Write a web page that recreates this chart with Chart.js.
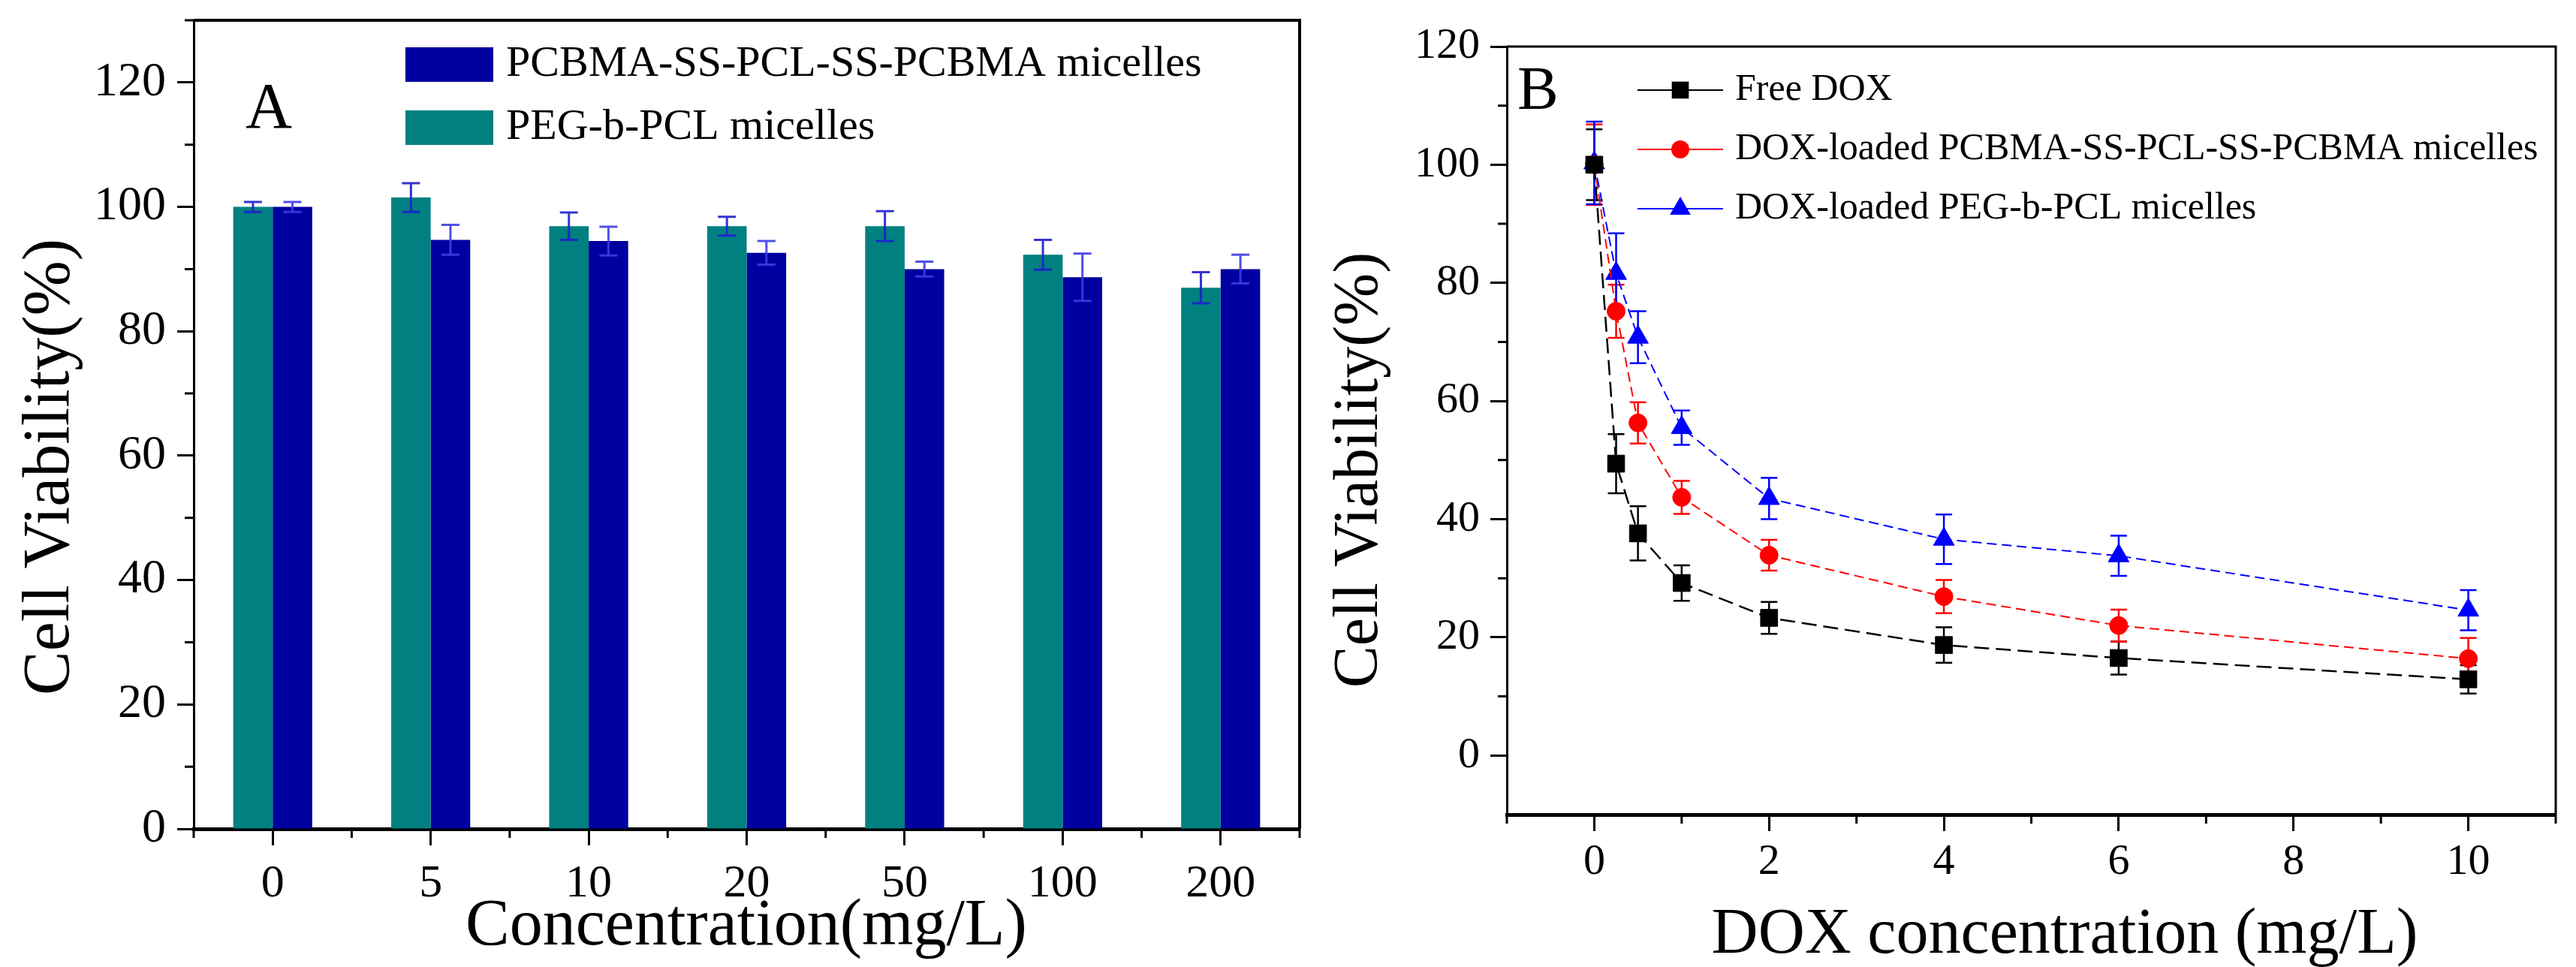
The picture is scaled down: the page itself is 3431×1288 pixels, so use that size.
<!DOCTYPE html>
<html>
<head>
<meta charset="utf-8">
<title>Cell viability of micelles and DOX-loaded micelles</title>
<script src="https://cdn.jsdelivr.net/npm/chart.js@4.4.1/dist/chart.umd.min.js"></script>
<style>
  html, body { margin: 0; padding: 0; background: #fff; }
  body { width: 3431px; height: 1288px; position: relative; overflow: hidden; }
  .panel { position: absolute; top: 0; height: 1288px; }
  #panel-a { left: 0; width: 1760px; }
  #panel-b { left: 1760px; width: 1671px; }
</style>
</head>
<body>
<div class="panel" id="panel-a"><canvas id="chartA"></canvas></div>
<div class="panel" id="panel-b"><canvas id="chartB"></canvas></div>
<script>
// Panel A - blank micelles
const aConcLabels = ['0', '5', '10', '20', '50', '100', '200'];
const aPegValues = [100, 101.5, 96.9, 96.9, 96.9, 92.3, 87.0];
const aPegErrors = [0.8, 2.3, 2.2, 1.5, 2.4, 2.4, 2.5];
const aPcbmaValues = [100, 94.7, 94.5, 92.6, 90.0, 88.7, 90.0];
const aPcbmaErrors = [0.8, 2.4, 2.3, 1.9, 1.2, 3.8, 2.3];
const aYTicks = [0, 20, 40, 60, 80, 100, 120];
const aYMinorTicks = [10, 30, 50, 70, 90, 110, 130];

// Panel B - DOX formulations
const bDoxConc = [0, 0.25, 0.5, 1, 2, 4, 6, 10];
const bFreeValues = [100, 49.4, 37.6, 29.2, 23.3, 18.7, 16.5, 12.9];
const bFreeErrors = [6, 5, 4.6, 3, 2.7, 3, 2.8, 2.4];
const bPcbmaValues = [100, 75.2, 56.3, 43.7, 33.9, 26.9, 22.0, 16.4];
const bPcbmaErrors = [6.8, 4.5, 3.5, 2.8, 2.6, 2.8, 2.7, 3.5];
const bPegValues = [100.3, 81.6, 70.8, 55.5, 43.5, 36.6, 33.8, 24.6];
const bPegErrors = [7, 6.8, 4.4, 2.9, 3.5, 4.2, 3.4, 3.4];
const bXTicks = [0, 2, 4, 6, 8, 10];
const bXMinorTicks = [-1, 1, 3, 5, 7, 9, 11];
const bYTicks = [0, 20, 40, 60, 80, 100, 120];
const bYMinorTicks = [10, 30, 50, 70, 90, 110];

const SERIF = "'Liberation Serif', 'Times New Roman', serif";
Chart.defaults.font.family = SERIF;
Chart.defaults.color = '#000';

// Marker shapes used in the panel B legend (same geometry as Chart.js point styles)
function drawMarker(ctx, style, x, y, r, color) {
  ctx.save();
  ctx.fillStyle = color;
  ctx.beginPath();
  if (style === 'rect') {
    const h = r * Math.SQRT1_2;
    ctx.rect(x - h, y - h, 2 * h, 2 * h);
  } else if (style === 'triangle') {
    for (let k = 0; k < 3; k++) {
      const a = k * 2 * Math.PI / 3;
      const px = x + Math.sin(a) * r;
      const py = y - Math.cos(a) * r;
      if (k === 0) ctx.moveTo(px, py); else ctx.lineTo(px, py);
    }
    ctx.closePath();
  } else {
    ctx.arc(x, y, r, 0, Math.PI * 2);
  }
  ctx.fill();
  ctx.restore();
}

function drawErrorBars(chart, opts) {
  const ctx = chart.ctx;
  const yScale = chart.scales.y;
  const half = opts.capWidth / 2;
  ctx.save();
  ctx.lineWidth = opts.errorWidth;
  opts.errors.forEach((errs, i) => {
    const meta = chart.getDatasetMeta(i);
    const ds = chart.data.datasets[i];
    ctx.strokeStyle = opts.errorColors[i];
    meta.data.forEach((el, j) => {
      const raw = ds.data[j];
      const v = typeof raw === 'object' ? raw.y : raw;
      const yHi = yScale.getPixelForValue(v + errs[j]);
      const yLo = yScale.getPixelForValue(v - errs[j]);
      ctx.beginPath();
      ctx.moveTo(el.x, yHi); ctx.lineTo(el.x, yLo);
      ctx.moveTo(el.x - half, yHi); ctx.lineTo(el.x + half, yHi);
      ctx.moveTo(el.x - half, yLo); ctx.lineTo(el.x + half, yLo);
      ctx.stroke();
    });
  });
  ctx.restore();
}

// Frame, minor ticks, error bars, titles and legends
const decorPlugin = {
  id: 'decor',
  beforeDatasetsDraw(chart, args, opts) {
    if (opts.errorsBehind) drawErrorBars(chart, opts);
  },
  afterDatasetsDraw(chart, args, opts) {
    if (!opts.errorsBehind) drawErrorBars(chart, opts);
  },
  afterDraw(chart, args, opts) {
    const ctx = chart.ctx;
    const { left, right, top, bottom } = chart.chartArea;
    const xs = chart.scales.x;
    const ys = chart.scales.y;
    ctx.save();
    ctx.strokeStyle = '#000';
    ctx.lineWidth = opts.frameWidth;
    ctx.beginPath();
    ctx.moveTo(left, top);
    ctx.lineTo(right, top);
    ctx.lineTo(right, bottom);
    ctx.stroke();

    ctx.lineWidth = opts.minorWidth;
    ctx.beginPath();
    opts.xMinor.forEach(v => {
      const px = xs.getPixelForValue(v);
      ctx.moveTo(px, bottom);
      ctx.lineTo(px, bottom + opts.minorLength);
    });
    opts.yMinor.forEach(v => {
      const py = ys.getPixelForValue(v);
      ctx.moveTo(left, py);
      ctx.lineTo(left - opts.minorLength, py);
    });
    ctx.stroke();

    ctx.fillStyle = '#000';
    opts.texts.forEach(t => {
      ctx.save();
      ctx.font = `${t.size}px ${SERIF}`;
      ctx.textBaseline = 'alphabetic';
      ctx.textAlign = t.align || 'center';
      ctx.translate(t.x, t.y);
      if (t.rotate) ctx.rotate(-Math.PI / 2);
      ctx.fillText(t.text, 0, 0);
      ctx.restore();
    });

    const lg = opts.legend;
    ctx.font = `${lg.fontSize}px ${SERIF}`;
    ctx.textBaseline = 'middle';
    ctx.textAlign = 'left';
    lg.order.forEach((dsIndex, row) => {
      const ds = chart.data.datasets[dsIndex];
      const y = lg.y + row * lg.rowGap;
      if (lg.boxes) {
        ctx.fillStyle = ds.backgroundColor;
        ctx.fillRect(lg.x, y - lg.boxHeight / 2, lg.boxWidth, lg.boxHeight);
      } else {
        ctx.strokeStyle = ds.borderColor;
        ctx.lineWidth = 2;
        ctx.beginPath();
        ctx.moveTo(lg.x, y);
        ctx.lineTo(lg.x + lg.boxWidth, y);
        ctx.stroke();
        drawMarker(ctx, ds.pointStyle, lg.x + lg.boxWidth / 2, y, ds.pointRadius, ds.backgroundColor);
      }
      ctx.fillStyle = '#000';
      ctx.fillText(ds.label, lg.textX, y);
    });
    ctx.restore();
  }
};

function fixedBox(size, horizontal) {
  return s => {
    if (horizontal) s.height = size; else s.width = size;
    s.paddingTop = 0; s.paddingBottom = 0; s.paddingLeft = 0; s.paddingRight = 0;
  };
}

const tickGrid = { drawOnChartArea: false, drawTicks: true, tickLength: 22, tickWidth: 3, tickColor: '#000', offset: false };

// Panel A chart
new Chart(document.getElementById('chartA'), {
  type: 'bar',
  data: {
    labels: aConcLabels,
    datasets: [
      { label: 'PEG-b-PCL micelles', data: aPegValues, backgroundColor: '#008080', borderWidth: 0, categoryPercentage: 0.5, barPercentage: 1.0 },
      { label: 'PCBMA-SS-PCL-SS-PCBMA micelles', data: aPcbmaValues, backgroundColor: '#0000A0', borderWidth: 0, categoryPercentage: 0.5, barPercentage: 1.0 }
    ]
  },
  options: {
    responsive: true,
    maintainAspectRatio: false,
    animation: false,
    devicePixelRatio: 1,
    events: [],
    layout: { padding: { top: 27, right: 29, left: 0, bottom: 0 } },
    plugins: {
      legend: { display: false },
      tooltip: { enabled: false },
      decor: {
        frameWidth: 4, minorLength: 12, minorWidth: 3,
        xMinor: aConcLabels.map((_, i) => i - 0.5).concat([aConcLabels.length - 0.5]),
        yMinor: aYMinorTicks,
        errors: [aPegErrors, aPcbmaErrors],
        errorColors: ['rgba(30, 30, 205, 0.9)', 'rgba(60, 60, 230, 0.9)'],
        errorWidth: 3, capWidth: 24, errorsBehind: false,
        texts: [
          { text: 'Cell Viability(%)', x: 91, y: 622, size: 88, rotate: true },
          { text: 'Concentration(mg/L)', x: 994, y: 1258, size: 88 },
          { text: 'A', x: 327, y: 170, size: 86, align: 'left' }
        ],
        legend: { boxes: true, order: [1, 0], x: 540, y: 86, rowGap: 84, boxWidth: 117, boxHeight: 46, textX: 674, fontSize: 58 }
      }
    },
    scales: {
      x: {
        type: 'category',
        afterFit: fixedBox(184, true),
        ticks: { font: { size: 62 }, color: '#000', padding: 15, maxRotation: 0, autoSkip: false },
        grid: tickGrid,
        border: { color: '#000', width: 5 }
      },
      y: {
        min: 0, max: 130,
        afterBuildTicks: s => { s.ticks = aYTicks.map(v => ({ value: v })); },
        afterFit: fixedBox(258, false),
        ticks: { font: { size: 64 }, color: '#000', padding: 15 },
        grid: tickGrid,
        border: { color: '#000', width: 3 }
      }
    }
  },
  plugins: [decorPlugin]
});

// Panel B chart
function toPoints(values) {
  return bDoxConc.map((x, i) => ({ x, y: values[i] }));
}

new Chart(document.getElementById('chartB'), {
  type: 'line',
  data: {
    datasets: [
      { label: 'Free DOX', data: toPoints(bFreeValues), borderColor: '#000', backgroundColor: '#000',
        borderWidth: 2.5, borderDash: [20, 9], pointStyle: 'rect', pointRadius: 16, pointBorderWidth: 1, pointBorderColor: '#000', tension: 0, fill: false },
      { label: 'DOX-loaded PCBMA-SS-PCL-SS-PCBMA micelles', data: toPoints(bPcbmaValues), borderColor: '#ff0000', backgroundColor: '#ff0000',
        borderWidth: 2, borderDash: [13, 7], pointStyle: 'circle', pointRadius: 12, pointBorderWidth: 1, pointBorderColor: '#ff0000', tension: 0, fill: false },
      { label: 'DOX-loaded PEG-b-PCL micelles', data: toPoints(bPegValues), borderColor: '#0000ff', backgroundColor: '#0000ff',
        borderWidth: 2, borderDash: [13, 7], pointStyle: 'triangle', pointRadius: 16, pointBorderWidth: 1, pointBorderColor: '#0000ff', tension: 0, fill: false }
    ]
  },
  options: {
    responsive: true,
    maintainAspectRatio: false,
    animation: false,
    devicePixelRatio: 1,
    events: [],
    layout: { padding: { top: 62, right: 27, left: 0, bottom: 0 } },
    plugins: {
      legend: { display: false },
      tooltip: { enabled: false },
      decor: {
        frameWidth: 3, minorLength: 12, minorWidth: 3,
        xMinor: bXMinorTicks,
        yMinor: bYMinorTicks,
        errors: [bFreeErrors, bPcbmaErrors, bPegErrors],
        errorColors: ['#000', '#ff0000', '#0000ff'],
        errorWidth: 2.5, capWidth: 22, errorsBehind: true,
        texts: [
          { text: 'Cell Viability(%)', x: 74, y: 626, size: 84, rotate: true },
          { text: 'DOX concentration (mg/L)', x: 990, y: 1269, size: 86 },
          { text: 'B', x: 261, y: 145, size: 82, align: 'left' }
        ],
        legend: { boxes: false, order: [0, 1, 2], x: 421, y: 120, rowGap: 79, boxWidth: 114, textX: 551, fontSize: 50 }
      }
    },
    scales: {
      x: {
        type: 'linear',
        min: -1, max: 11,
        afterBuildTicks: s => { s.ticks = bXTicks.map(v => ({ value: v })); },
        afterFit: fixedBox(203, true),
        ticks: { font: { size: 58 }, color: '#000', padding: 7, maxRotation: 0, autoSkip: false },
        grid: tickGrid,
        border: { color: '#000', width: 5 }
      },
      y: {
        min: -10, max: 120,
        afterBuildTicks: s => { s.ticks = bYTicks.map(v => ({ value: v })); },
        afterFit: fixedBox(247, false),
        ticks: { font: { size: 58 }, color: '#000', padding: 14 },
        grid: tickGrid,
        border: { color: '#000', width: 3 }
      }
    }
  },
  plugins: [decorPlugin]
});
</script>
</body>
</html>
